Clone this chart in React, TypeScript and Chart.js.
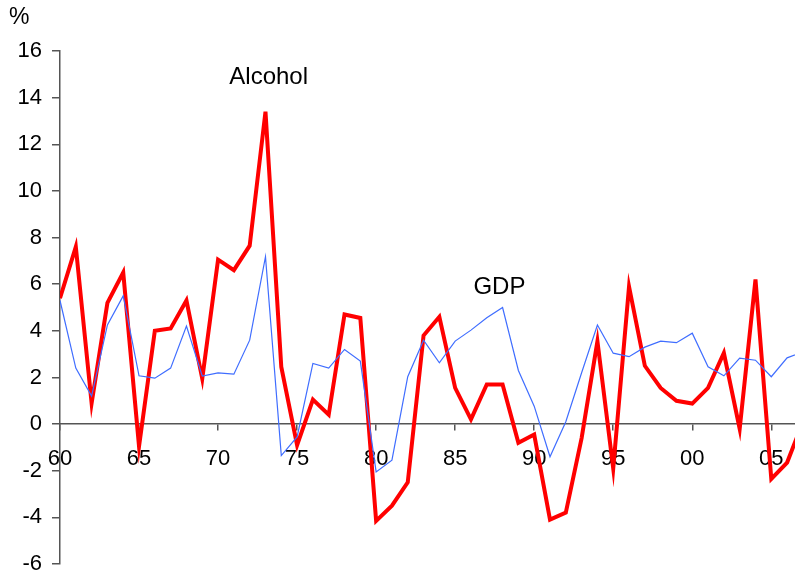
import React, { useEffect, useRef } from "react";
import { Chart, registerables } from "chart.js";

Chart.register(...registerables);

const years = [
  1960, 1961, 1962, 1963, 1964, 1965, 1966, 1967, 1968, 1969,
  1970, 1971, 1972, 1973, 1974, 1975, 1976, 1977, 1978, 1979,
  1980, 1981, 1982, 1983, 1984, 1985, 1986, 1987, 1988, 1989,
  1990, 1991, 1992, 1993, 1994, 1995, 1996, 1997, 1998, 1999,
  2000, 2001, 2002, 2003, 2004, 2005, 2006, 2007,
];

const alcohol = [
  5.4, 7.6, 0.9, 5.2, 6.5, -0.95, 4.0, 4.1, 5.3, 1.95,
  7.05, 6.6, 7.65, 13.4, 2.45, -0.9, 1.05, 0.4, 4.7, 4.55,
  -4.15, -3.5, -2.5, 3.8, 4.6, 1.55, 0.2, 1.7, 1.7, -0.8,
  -0.45, -4.1, -3.8, -0.6, 3.55, -1.9, 5.9, 2.5, 1.55, 1.0,
  0.88, 1.55, 3.05, -0.2, 6.2, -2.35, -1.65, 0.1,
];

const gdp = [
  5.3, 2.4, 1.2, 4.25, 5.5, 2.07, 1.97, 2.4, 4.2, 2.06,
  2.2, 2.14, 3.6, 7.18, -1.35, -0.55, 2.6, 2.4, 3.2, 2.7,
  -2.05, -1.55, 2.03, 3.6, 2.63, 3.56, 4.03, 4.56, 5.0, 2.3,
  0.77, -1.4, 0.1, 2.2, 4.25, 3.04, 2.89, 3.3, 3.56, 3.49,
  3.9, 2.46, 2.07, 2.83, 2.74, 2.03, 2.84, 3.1,
];

const xTickValues = [1960, 1965, 1970, 1975, 1980, 1985, 1990, 1995, 2000, 2005];
const xTickLabels = ["60", "65", "70", "75", "80", "85", "90", "95", "00", "05"];

const annotations = [
  { text: "Alcohol", x: 1973.2, y: 14.85 },
  { text: "GDP", x: 1987.8, y: 5.85 },
];

const FONT = "'Liberation Sans', Arial, sans-serif";

const labelPlugin = {
  id: "labels",
  afterDraw(chart: any) {
    const ctx = chart.ctx;
    const xs = chart.scales.x;
    const ys = chart.scales.y;
    ctx.save();
    ctx.fillStyle = "#000";
    ctx.textAlign = "center";
    ctx.textBaseline = "middle";
    ctx.font = `24px ${FONT}`;
    for (const a of annotations) {
      ctx.fillText(a.text, xs.getPixelForValue(a.x), ys.getPixelForValue(a.y));
    }
    ctx.font = `23px ${FONT}`;
    ctx.textAlign = "left";
    ctx.fillText("%", 9, 18);
    ctx.restore();
  },
};

const zeroPadding = (scale: any) => {
  scale.paddingTop = 0;
  scale.paddingBottom = 0;
  scale.paddingLeft = 0;
  scale.paddingRight = 0;
};

export default function App() {
  const ref = useRef<HTMLCanvasElement | null>(null);
  useEffect(() => {
    if (!ref.current) return;
    const chart = new Chart(ref.current, {
      type: "line",
      data: {
        datasets: [
          {
            label: "GDP",
            data: years.map((y, i) => ({ x: y, y: gdp[i] })),
            borderColor: "#3f6dff",
            borderWidth: 1.2,
            pointRadius: 0,
            tension: 0,
            fill: false,
          },
          {
            label: "Alcohol",
            data: years.map((y, i) => ({ x: y, y: alcohol[i] })),
            borderColor: "#ff0000",
            borderWidth: 4,
            pointRadius: 0,
            tension: 0,
            fill: false,
          },
        ],
      },
      options: {
        responsive: false,
        animation: false,
        devicePixelRatio: 1,
        layout: { padding: { top: 51, right: 0, bottom: 13, left: 0 } },
        plugins: {
          legend: { display: false },
          tooltip: { enabled: false },
        },
        scales: {
          x: {
            type: "linear",
            position: { y: 0 },
            min: 1960,
            max: 2006.5,
            afterBuildTicks: (scale: any) => {
              scale.ticks = xTickValues.map((v) => ({ value: v }));
            },
            afterFit: zeroPadding,
            ticks: {
              autoSkip: false,
              maxRotation: 0,
              minRotation: 0,
              padding: 16,
              color: "#000",
              font: { family: FONT, size: 22 },
              callback: (_v: any, i: number) => xTickLabels[i],
            },
            grid: {
              drawOnChartArea: false,
              drawTicks: true,
              tickLength: 6,
              color: "#555",
              lineWidth: 1.5,
            },
            border: { display: true, color: "#555", width: 1.5 },
          },
          y: {
            type: "linear",
            min: -6,
            max: 16,
            afterFit: (scale: any) => {
              scale.width = 60;
              zeroPadding(scale);
            },
            ticks: {
              stepSize: 2,
              padding: 10,
              color: "#000",
              font: { family: FONT, size: 22 },
            },
            grid: {
              drawOnChartArea: false,
              drawTicks: true,
              tickLength: 8,
              color: "#555",
              lineWidth: 1.5,
            },
            border: { display: true, color: "#555", width: 1.5 },
          },
        },
      },
      plugins: [labelPlugin],
    });
    return () => chart.destroy();
  }, []);
  return (
    <div style={{ position: "absolute", left: 0, top: 0, width: 795, height: 577, background: "#fff" }}>
      <canvas ref={ref} width={795} height={577} />
    </div>
  );
}
